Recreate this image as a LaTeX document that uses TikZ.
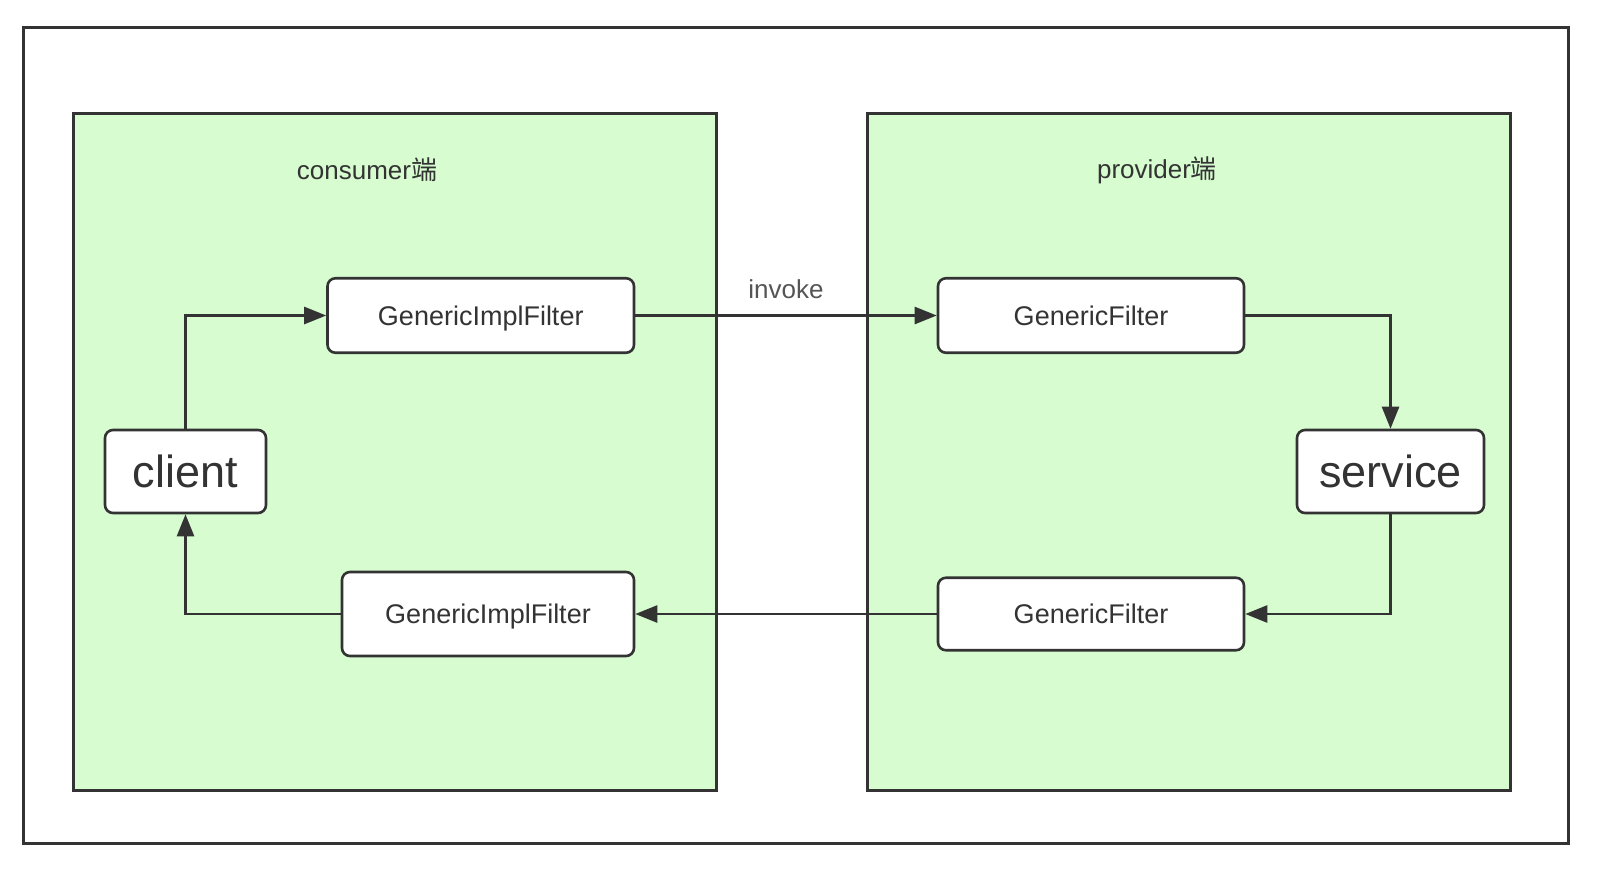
\documentclass[tikz,border=0pt]{standalone}
\usepackage{fontspec}
\setmainfont{Liberation Sans}
\newfontfamily\cjk{Noto Sans CJK SC}
\usetikzlibrary{arrows.meta}
\definecolor{ink}{HTML}{333333}
\definecolor{grn}{HTML}{D6FCD0}
\definecolor{lbl}{HTML}{555555}
\tikzset{
  frame/.style={draw=ink, line width=3pt},
  side/.style={draw=ink, line width=3pt, fill=grn},
  box/.style={draw=ink, line width=2.6pt, fill=white, rounded corners=8pt, text=ink, inner sep=0pt, text depth=0pt, font=\fontsize{27}{30}\selectfont},
  bigbox/.style={box, font=\fontsize{45}{50}\selectfont},
  title/.style={text=ink, font=\fontsize{26}{30}\selectfont},
  conn/.style={draw=ink, line width=2.6pt, -{Triangle[length=22pt,width=17pt]}},
}
\begin{document}
\begin{tikzpicture}[x=1pt,y=-1pt]
\useasboundingbox (0,0) rectangle (1600,868);
\fill[white] (0,0) rectangle (1600,868);
\draw[frame] (23.5,27.5) rectangle (1568,843);
\draw[side] (73.5,113) rectangle (716,790);
\draw[side] (867,113) rectangle (1510,790);
\node[title] (cons) at (367,170) {consumer{\cjk 端}};
\node[title] (prov) at (1157,170) {provider{\cjk 端}};

\node[box, minimum width=306.5pt, minimum height=74.5pt] (gif1) at (480.75,315.5) {GenericImplFilter};
\node[bigbox, minimum width=161pt, minimum height=83pt] (client) at (185.5,471.5) {client};
\node[box, minimum width=292pt, minimum height=84pt] (gif2) at (488,614) {GenericImplFilter};
\node[box, minimum width=306pt, minimum height=74.5pt] (gf1) at (1091,315.5) {GenericFilter};
\node[bigbox, minimum width=187pt, minimum height=83pt] (service) at (1390.5,471.5) {service};
\node[box, minimum width=306pt, minimum height=72.5pt] (gf2) at (1091,614) {GenericFilter};

\draw[conn] (client.north) |- (gif1.west);
\draw[conn] (gif1.east) -- node[pos=0.5, above=12pt, text=lbl, font=\fontsize{26}{30}\selectfont] (inv) {invoke} (gf1.west);
\draw[conn] (gf1.east) -| (service.north);
\draw[conn] (service.south) |- (gf2.east);
\draw[conn] (gf2.west) -- (gif2.east);
\draw[conn] (gif2.west) -| (client.south);
\end{tikzpicture}
\end{document}
